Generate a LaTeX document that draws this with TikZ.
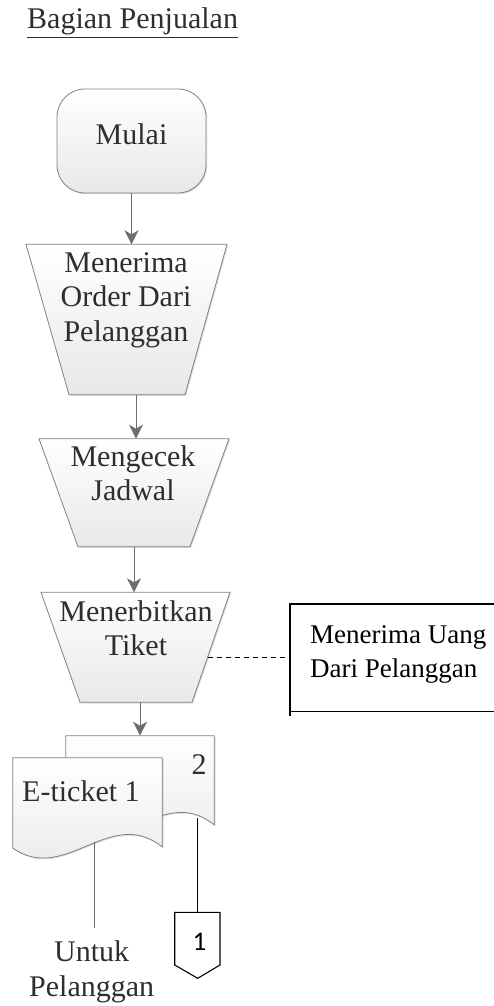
\documentclass[tikz,border=0pt]{standalone}
\usepackage{fontspec}
\setmainfont{Liberation Serif}
\newfontfamily\connfont{Carlito}
\usetikzlibrary{arrows.meta,shadows}
\definecolor{edge}{HTML}{808080}
\definecolor{txt}{HTML}{2E2E2E}
\definecolor{arrowc}{HTML}{6E6E6E}
\tikzset{
  shapefill/.style={draw=edge, line width=0.8pt, top color=white, bottom color=black!9,
    drop shadow={opacity=0.25, shadow xshift=1.2pt, shadow yshift=-1.2pt}},
  lbl/.style={inner sep=0pt, text=txt, align=center, font=\fontsize{30}{34.5}\selectfont},
  arr/.style={draw=arrowc, line width=1pt, -{Stealth[length=14pt,width=14pt,inset=4pt]}},
}
\begin{document}
\begin{tikzpicture}[x=1pt,y=-1pt]
\useasboundingbox (0,0) rectangle (494,1006);

% title
\node[lbl, anchor=base west] (title) at (27,29) {\underline{Bagian Penjualan}};

% Mulai
\node[shapefill, rounded corners=28pt, minimum width=149pt, minimum height=104pt,
  text=txt, font=\fontsize{30}{34.5}\selectfont, text height=20.5pt, text depth=14.5pt]
  (mulai) at (131.5,141) {Mulai};

% trapezoid 1
\path[shapefill] (26,244.3) -- (227,244.3) -- (185,394.7) -- (69,394.7) -- cycle;
\node[lbl] (t1) at (126,300) {Menerima\\Order Dari\\Pelanggan};
\coordinate (t1n) at (131.5,244.3);
\coordinate (t1s) at (136,394.7);

% trapezoid 2
\path[shapefill] (39,438.7) -- (229,438.7) -- (190,546.7) -- (78,546.7) -- cycle;
\node[lbl] (t2) at (133,473) {Mengecek\\Jadwal};
\coordinate (t2n) at (136,438.7);
\coordinate (t2s) at (134,546.7);

% trapezoid 3
\path[shapefill] (41,592.3) -- (230,592.3) -- (192,702.3) -- (80,702.3) -- cycle;
\node[lbl] (t3) at (136,628) {Menerbitkan\\Tiket};
\coordinate (t3n) at (134,592.3);
\coordinate (t3s) at (140,702.3);
\coordinate (t3e) at (207.6,657);

% box
\draw[line width=1.1pt] (494,604) -- (290,604) -- (290,715.7);
\draw[line width=1.1pt] (290,711.7) -- (494,711.7);
\coordinate (boxw) at (290,657);
\node[lbl, text=black, align=left, anchor=west, font=\fontsize{27}{34.4}\selectfont]
  (uang) at (310,654.3) {Menerima Uang\\Dari Pelanggan};

% documents
\path[shapefill] (65.7,735.7) -- (214.3,735.7) -- (214.3,825)
  .. controls (163,783) and (118,863) .. (65.7,826) -- cycle;
\coordinate (d2n) at (140,735.7);
\coordinate (d2s) at (197.7,818);
\node[lbl] (two) at (199,765) {2};

\path[shapefill] (12.7,757.7) -- (162.3,757.7) -- (162.3,847)
  .. controls (110,805) and (65,885) .. (12.7,848) -- cycle;
\node[lbl, anchor=base west] (eticket) at (22,801.7) {E-ticket 1};
\coordinate (d1s) at (94,842);

% off-page connector
\path[draw=black, line width=1.1pt, fill=white]
  (174.7,912.3) -- (220,912.3) -- (220,965) -- (197.7,978.3) -- (174.7,965) -- cycle;
\node[inner sep=0pt, font=\connfont\fontsize{27}{30}\selectfont] (c1) at (199.5,941.5) {1};
\coordinate (c1n) at (197.7,912.3);

% untuk pelanggan
\node[lbl] (untuk) at (91.7,972) {Untuk\\Pelanggan};
\coordinate (untukn) at (94,927.7);

% connectors
\draw[arr] (mulai.south) -- (t1n);
\draw[arr] (t1s) -- (t2n);
\draw[arr] (t2s) -- (t3n);
\draw[arr] (t3s) -- (d2n);
\draw[black, line width=1pt, dash pattern=on 5pt off 4pt] (t3e) -- (boxw);
\draw[arrowc, line width=1pt] (d1s) -- (untukn);
\draw[black, line width=1.1pt] (d2s) -- (c1n);
\end{tikzpicture}
\end{document}
